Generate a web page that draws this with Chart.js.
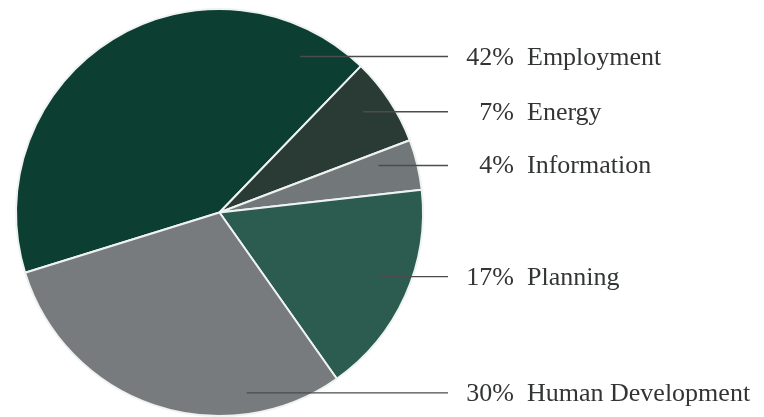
<!DOCTYPE html>
<html>
<head>
<meta charset="utf-8">
<script src="https://cdn.jsdelivr.net/npm/chart.js@4.4.1/dist/chart.umd.min.js"></script>
<style>
  html, body { margin: 0; padding: 0; background: #ffffff; }
  #wrap { width: 764px; height: 417px; position: relative; }
</style>
</head>
<body>
<div id="wrap"><canvas id="c" width="764" height="417"></canvas></div>
<script>
// ---- data ----
const categories = ["Employment", "Energy", "Information", "Planning", "Human Development"];
const shares = [42, 7, 4, 17, 30];
const sliceColors = ["#0c3e31", "#2a3b36", "#72787a", "#2c5b4f", "#787b7d"];

// ---- label/leader styling (layout only) ----
const leaderStyle = {
  radiusFrac: 0.9,            // anchor point along mid-angle
  nudgeY: [0, 0, -4, -11, 7], // fine vertical adjustment of each leader
  inset: [50, 33, 39, 34, 67],// how far inside the rim the leader starts
  lineEndX: 448,
  pctRightX: 514,
  nameLeftX: 527,
  baselineOffset: 8
};

const leaderPlugin = {
  id: 'leaders',
  afterDatasetsDraw(chart) {
    const ctx = chart.ctx;
    const meta = chart.getDatasetMeta(0);
    const ds = chart.data.datasets[0];
    ctx.save();
    meta.data.forEach((arc, i) => {
      const p = arc.getProps(['x', 'y', 'startAngle', 'endAngle', 'outerRadius'], true);
      const mid = (p.startAngle + p.endAngle) / 2;
      const r = p.outerRadius * leaderStyle.radiusFrac;
      const y = p.y + Math.sin(mid) * r + leaderStyle.nudgeY[i];
      const dy = y - p.y;
      const rimX = p.x + Math.sqrt(Math.max(p.outerRadius * p.outerRadius - dy * dy, 0));
      const x0 = rimX - leaderStyle.inset[i];
      ctx.strokeStyle = '#4a4d4c';
      ctx.lineWidth = 1.4;
      ctx.beginPath();
      ctx.moveTo(x0, y);
      ctx.lineTo(leaderStyle.lineEndX, y);
      ctx.stroke();

      ctx.fillStyle = '#333535';
      ctx.font = '26px "Liberation Serif", "Times New Roman", serif';
      ctx.textBaseline = 'alphabetic';
      ctx.textAlign = 'right';
      ctx.fillText(ds.data[i] + '%', leaderStyle.pctRightX, y + leaderStyle.baselineOffset);
      ctx.textAlign = 'left';
      ctx.fillText(chart.data.labels[i], leaderStyle.nameLeftX, y + leaderStyle.baselineOffset);
    });
    ctx.restore();
  }
};

new Chart(document.getElementById('c'), {
  type: 'pie',
  data: {
    labels: categories,
    datasets: [{
      data: shares,
      backgroundColor: sliceColors,
      borderColor: '#eef3f1',
      borderWidth: 2
    }]
  },
  options: {
    responsive: false,
    animation: false,
    rotation: -107.2,
    layout: { padding: { left: 14, right: 339, top: 8, bottom: -2 } },
    plugins: {
      legend: { display: false },
      tooltip: { enabled: false }
    }
  },
  plugins: [leaderPlugin]
});
</script>
</body>
</html>
